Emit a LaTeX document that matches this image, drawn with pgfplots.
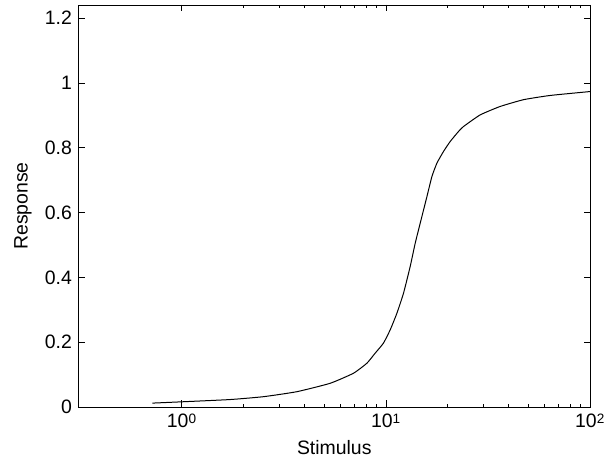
\documentclass[border=0pt]{standalone}
\usepackage{fontspec}
\setmainfont{Liberation Sans}[Scale=1.95]
\usepackage{pgfplots}
\pgfplotsset{compat=1.18}

\begin{document}
\begin{tikzpicture}
\begin{semilogxaxis}[
  scale only axis,
  width=511.5bp, height=402bp,
  xmin=0.312, xmax=100,
  ymin=0, ymax=1.24,
  xtick={1,10,100},
  xticklabels={10\textsuperscript{0},10\textsuperscript{1},10\textsuperscript{2}},
  minor xtick={},
  ytick={0,0.2,0.4,0.6,0.8,1,1.2},
  /pgf/number format/assume math mode=true,
  tick align=inside,
  major tick length=6.5bp,
  tick style={black, line width=0.6pt},
  axis line style={black, line width=0.6pt},
  xlabel={Stimulus},
  ylabel={Response},
]
\addplot[black, line width=1pt, smooth, tension=0.3] coordinates {
  (0.718,0.012) (1.0,0.016) (1.725,0.023) (2.512,0.0318) (3.662,0.0472)
  (5.33,0.0731) (6.93,0.104) (8.07,0.135) (8.86,0.166) (9.73,0.197)
  (10.5,0.238) (11.32,0.289) (12.2,0.351) (13.15,0.433) (13.92,0.505)
  (14.73,0.567) (15.89,0.649) (16.81,0.711) (17.78,0.752) (19.15,0.788)
  (20.66,0.819) (22.7,0.850) (23.99,0.865) (28.97,0.901) (36.3,0.927)
  (47.3,0.948) (63.9,0.961) (100,0.973)
};
\end{semilogxaxis}
\pgfresetboundingbox
\path[use as bounding box] (current axis.south west) ++(-78.5bp,-59bp) rectangle ++(611bp,466bp);
\end{tikzpicture}
\end{document}
